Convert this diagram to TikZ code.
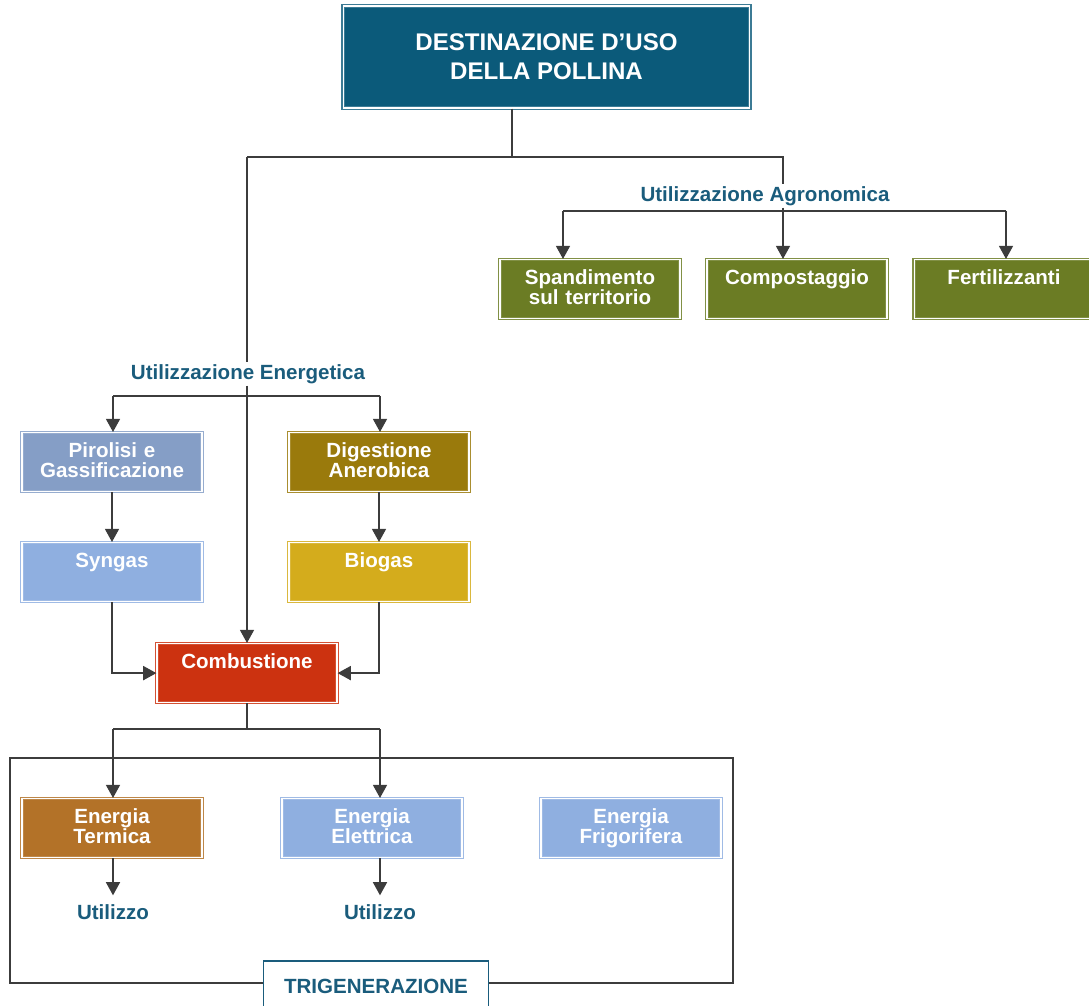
\documentclass[tikz,border=0pt]{standalone}
\usepackage{fontspec}
\setmainfont{Liberation Sans}
\usetikzlibrary{arrows.meta}
\definecolor{titleblue}{RGB}{11,90,122}
\definecolor{tagblue}{RGB}{26,92,124}
\definecolor{agrogreen}{RGB}{107,124,36}
\definecolor{pirblue}{RGB}{133,158,198}
\definecolor{lightblue}{RGB}{143,175,224}
\definecolor{digbrown}{RGB}{154,122,12}
\definecolor{biogold}{RGB}{212,172,28}
\definecolor{combred}{RGB}{204,50,16}
\definecolor{termbrown}{RGB}{179,114,40}
\definecolor{linegray}{RGB}{60,60,60}
\newcommand\nodefont{\fontsize{11.7}{11.3}\selectfont\bfseries}
\begin{document}
  \begin{tikzpicture}[x=0.02cm,y=-0.02cm,
      box/.style={draw=#1!85!white,fill=#1,double=white,double distance=0.6pt,line width=0.7pt,
        anchor=north,minimum width=3.6cm,text width=3.4cm,align=center,inner xsep=0.1cm,
        inner ysep=0.2cm,text height=0.3cm,text depth=0.48cm,text=white,font=\nodefont},
      branch/.style={draw=linegray,line width=0.9pt},
      arrow/.style={branch,-{Triangle[width=8pt,length=7.5pt]}},
      tag/.style={text=tagblue,font=\nodefont,inner sep=1pt}]
    \useasboundingbox (0,0) rectangle (1089,1006);
    \node[draw=titleblue!80!white,fill=titleblue,double=white,double distance=0.6pt,line width=0.7pt,
      minimum width=8.14cm,minimum height=2.04cm,text=white,align=center,
      font=\fontsize{13.7}{16.4}\selectfont\bfseries] (title) at (546.5,57) {DESTINAZIONE D'USO\\DELLA POLLINA};
    \node[tag] (agro) at (765,196) {Utilizzazione Agronomica};
    \node[box=agrogreen] (spand) at (590,259) {Spandimento\\sul territorio};
    \node[box=agrogreen] (compost) at (797,259) {Compostaggio};
    \node[box=agrogreen] (fert) at (1004,259) {Fertilizzanti};
    \node[tag] (ener) at (248,374) {Utilizzazione Energetica};
    \node[box=pirblue] (pir) at (112,432) {Pirolisi e\\Gassificazione};
    \node[box=digbrown] (dig) at (379,432) {Digestione\\Anerobica};
    \node[box=lightblue] (syn) at (112,542) {Syngas};
    \node[box=biogold] (bio) at (379,542) {Biogas};
    \node[box=combred] (comb) at (247,643) {Combustione};
    \draw[branch] (10,758) rectangle (733,983);
    \node[box=termbrown] (term) at (112,798) {Energia\\Termica};
    \node[box=lightblue] (elet) at (372,798) {Energia\\Elettrica};
    \node[box=lightblue] (frig) at (631,798) {Energia\\Frigorifera};
    \node[tag] (use1) at (113,912) {Utilizzo};
    \node[tag] (use2) at (380,912) {Utilizzo};
    \node[draw=tagblue,fill=white,line width=1pt,anchor=north,minimum width=4.5cm,
      minimum height=1.02cm,text=tagblue,font=\nodefont] (trig) at (376,960) {TRIGENERAZIONE};
    \coordinate (split) at (512,157);
    \coordinate (agjoin) at (783,157);
    \coordinate (ag1) at (563,211);
    \coordinate (ag2) at (783,211);
    \coordinate (ag3) at (1006,211);
    \coordinate (en1) at (113,396);
    \coordinate (en2) at (380,396);
    \coordinate (cb1) at (113,729);
    \coordinate (cb2) at (380,729);
    \draw[branch] (title.south -| split) -- (split);
    \draw[branch] (comb.north |- split) -- (agjoin) -- (agro.north -| agjoin);
    \draw[branch] (comb.north |- split) -- (comb.north |- ener.north);
    \draw[branch] (agro.south -| ag2) -- (ag2);
    \draw[branch] (ag1) -- (ag3);
    \draw[arrow] (ag1) -- (ag1 |- spand.north);
    \draw[arrow] (ag2) -- (ag2 |- compost.north);
    \draw[arrow] (ag3) -- (ag3 |- fert.north);
    \draw[branch] (en1) -- (en2);
    \draw[arrow] (en1) -- (en1 |- pir.north);
    \draw[arrow] (en2) -- (en2 |- dig.north);
    \draw[arrow] (ener.south -| comb.north) -- (comb.north);
    \draw[arrow] (pir.south) -- (syn.north);
    \draw[arrow] (dig.south) -- (bio.north);
    \draw[arrow] (syn.south) |- (comb.west);
    \draw[arrow] (bio.south) |- (comb.east);
    \draw[branch] (comb.south) -- (comb.south |- cb1);
    \draw[branch] (cb1) -- (cb2);
    \draw[arrow] (cb1) -- (cb1 |- term.north);
    \draw[arrow] (cb2) -- (cb2 |- elet.north);
    \draw[arrow,shorten >=4pt] (term.south -| use1) -- (use1.north);
    \draw[arrow,shorten >=4pt] (elet.south -| use2) -- (use2.north);
  \end{tikzpicture}
\end{document}
